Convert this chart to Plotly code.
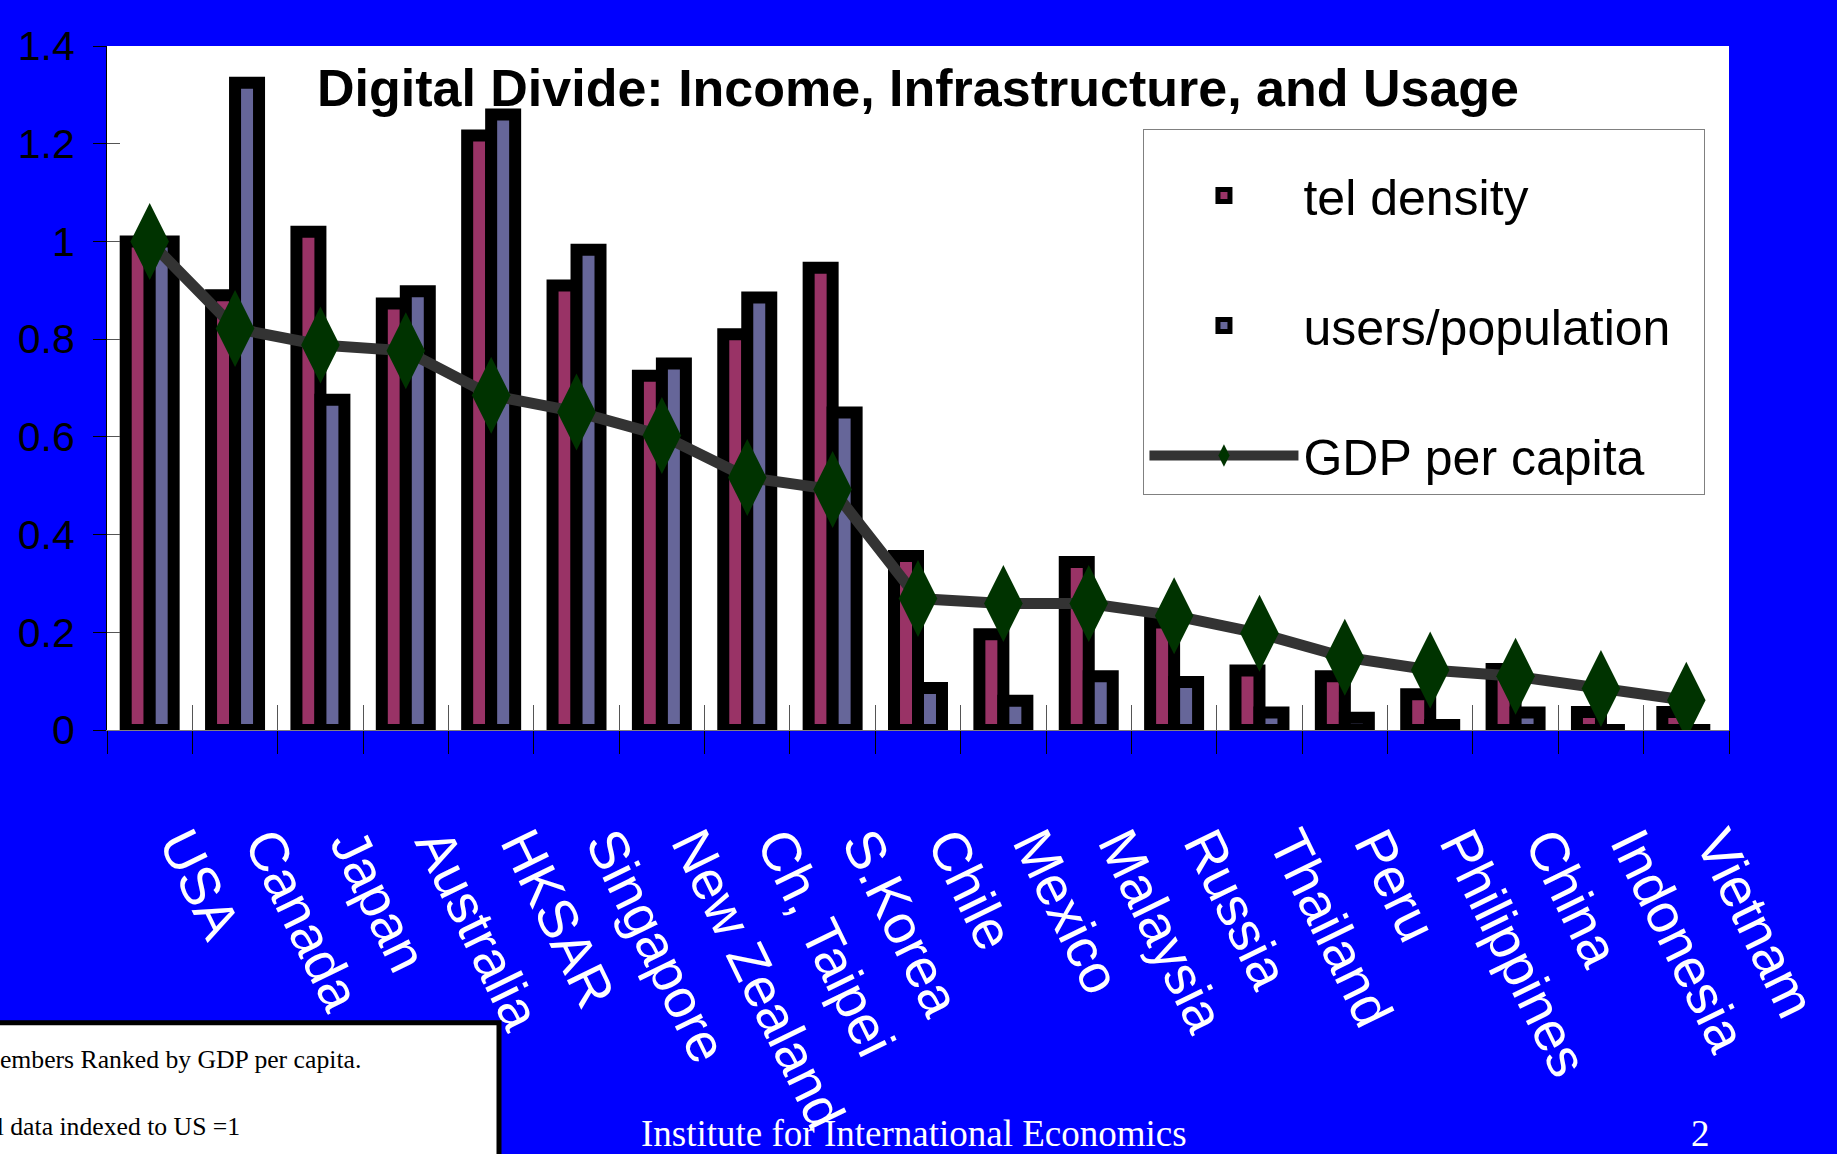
import plotly.graph_objects as go

countries = ["USA", "Canada", "Japan", "Australia", "HKSAR", "Singapore", "New Zealand",
             "Ch, Taipei", "S.Korea", "Chile", "Mexico", "Malaysia", "Russia", "Thailand",
             "Peru", "Philippines", "China", "Indonesia", "Vietnam"]
tel_density = [1.00, 0.89, 1.02, 0.873, 1.217, 0.91, 0.725, 0.81, 0.946, 0.356, 0.196,
               0.344, 0.22, 0.122, 0.11, 0.073, 0.125, 0.037, 0.037]
users_population = [1.00, 1.325, 0.676, 0.898, 1.26, 0.983, 0.75, 0.885, 0.65, 0.086, 0.06,
                    0.11, 0.098, 0.036, 0.025, 0.01, 0.036, 0, 0]
gdp_per_capita = [1.00, 0.822, 0.788, 0.776, 0.685, 0.651, 0.603, 0.517, 0.492, 0.269, 0.259,
                  0.259, 0.234, 0.198, 0.149, 0.123, 0.11, 0.085, 0.061]
y_tick_values = [0, 0.2, 0.4, 0.6, 0.8, 1, 1.2, 1.4]
y_tick_labels = ["0", "0.2", "0.4", "0.6", "0.8", "1", "1.2", "1.4"]

SANS = "Liberation Sans, Arial, sans-serif"
SERIF = "Liberation Serif, Times New Roman, serif"

n = len(countries)
x_range = [-0.5, n - 0.5]

fig = go.Figure()
fig.add_trace(go.Bar(x=countries, y=tel_density, name="tel density", legendgroup="a",
                     marker=dict(color="#993366", line=dict(color="black", width=12))))
fig.add_trace(go.Bar(x=countries, y=users_population, name="users/population", legendgroup="b",
                     marker=dict(color="#666699", line=dict(color="black", width=12))))
fig.add_trace(go.Scatter(x=countries, y=gdp_per_capita, name="GDP per capita", legendgroup="c",
                         mode="lines+markers",
                         line=dict(color="#333333", width=11),
                         marker=dict(symbol="diamond-tall", size=55, color="#003300",
                                     line=dict(width=0))))
# dummy trace for overlay axes (inside half of the crossing ticks)
fig.add_trace(go.Scatter(x=countries, y=[None] * n, xaxis="x2", yaxis="y2",
                         showlegend=False, hoverinfo="skip", mode="lines"))

fig.update_layout(
    width=1837, height=1154,
    paper_bgcolor="#0000FF", plot_bgcolor="white",
    margin=dict(l=107, r=108, t=46, b=424, autoexpand=False),
    barmode="group", bargap=0.438, bargroupgap=0,
    showlegend=True,
    legend=dict(x=0.639, y=0.878, xanchor="left", yanchor="top",
                bgcolor="white", bordercolor="#808080", borderwidth=1,
                font=dict(family=SANS, size=50, color="black"),
                title=dict(text="\u00a0" * 100, font=dict(family=SANS, size=20)),
                tracegroupgap=62, itemwidth=149, traceorder="grouped"),
    xaxis=dict(type="category", categoryorder="array", categoryarray=countries,
               range=x_range,
               tickson="boundaries", ticks="outside", ticklen=23, tickcolor="black",
               tickwidth=1, showline=True, linecolor="#808080", linewidth=1,
               tickangle=64, tickfont=dict(family=SANS, size=55, color="white"),
               ticklabelstandoff=60, ticklabelshift=33, showgrid=False, zeroline=False),
    yaxis=dict(range=[0, 1.4], tickvals=y_tick_values, ticktext=y_tick_labels,
               ticks="outside", ticklen=13, tickcolor="black", tickwidth=1,
               showline=True, linecolor="black", linewidth=1, showgrid=False,
               zeroline=False, tickfont=dict(family=SANS, size=41, color="black"),
               ticklabelstandoff=10),
    xaxis2=dict(type="category", overlaying="x", matches="x", categoryorder="array",
                categoryarray=countries, range=x_range, tickson="boundaries",
                ticks="inside", ticklen=25,
                tickcolor="#555555", tickwidth=1, showticklabels=False, showgrid=False,
                zeroline=False, side="bottom"),
    yaxis2=dict(overlaying="y", matches="y", range=[0, 1.4], tickvals=y_tick_values,
                ticks="inside", ticklen=13, tickcolor="#555555", tickwidth=1,
                showticklabels=False, showgrid=False, zeroline=False, side="left"),
)

# Title drawn behind the bars (as a shape label on the lower layer)
fig.add_shape(type="rect", xref="paper", yref="paper", x0=0.1, x1=0.9, y0=0.889, y1=1.004,
              line=dict(width=0), fillcolor="rgba(0,0,0,0)", layer="below",
              label=dict(text="<b>Digital Divide: Income, Infrastructure, and Usage</b>",
                         font=dict(family=SANS, size=52, color="black"),
                         textposition="middle center"))

# bottom-left note box (its text runs off the left edge, as in the original slide)
fig.add_shape(type="rect", xref="paper", yref="paper",
              x0=-0.2, x1=(499 - 107) / 1622, y0=-(1023 - 730) / 684.3, y1=-1.0,
              line=dict(color="black", width=5), fillcolor="white", layer="above")
fig.add_annotation(xref="paper", yref="paper", x=(363 - 107) / 1622, y=-(1060 - 730) / 684.3,
                   xanchor="right", yanchor="middle", showarrow=False,
                   text="APEC Members Ranked by GDP per capita.",
                   font=dict(family=SERIF, size=25.7, color="black"))
fig.add_annotation(xref="paper", yref="paper", x=(242 - 107) / 1622, y=-(1127 - 730) / 684.3,
                   xanchor="right", yanchor="middle", showarrow=False,
                   text="All data indexed to US =1",
                   font=dict(family=SERIF, size=25.7, color="black"))
fig.add_annotation(xref="paper", yref="paper", x=(914 - 107) / 1622, y=-(1134 - 730) / 684.3,
                   xanchor="center", yanchor="middle", showarrow=False,
                   text="Institute for International Economics",
                   font=dict(family=SERIF, size=37, color="white"))
fig.add_annotation(xref="paper", yref="paper", x=(1700 - 107) / 1622, y=-(1134 - 730) / 684.3,
                   xanchor="center", yanchor="middle", showarrow=False,
                   text="2", font=dict(family=SERIF, size=37, color="white"))

fig.write_html("out.html", config={"displayModeBar": False},
               post_script="document.body.style.margin='0px';document.body.style.overflow='hidden';")
